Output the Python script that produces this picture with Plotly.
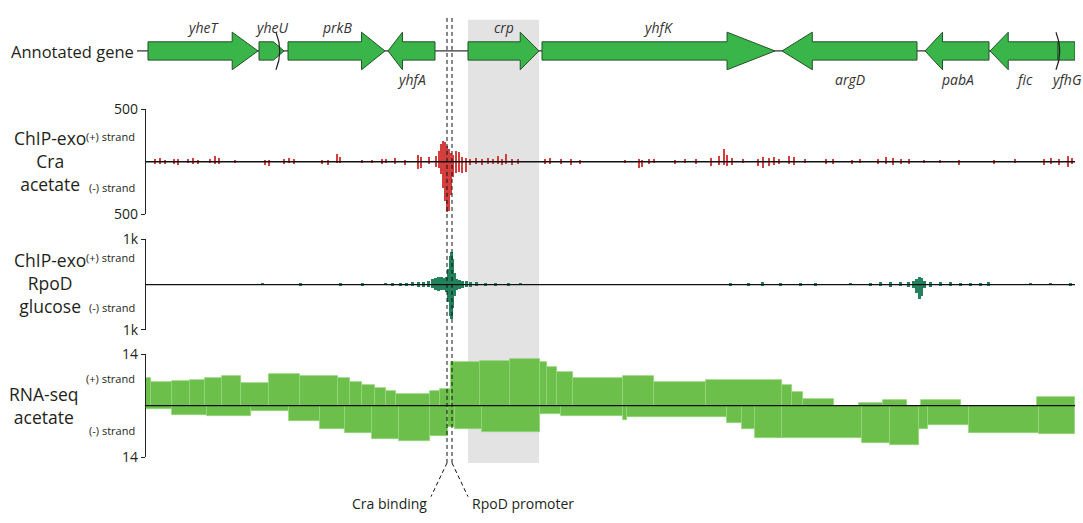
import plotly.graph_objects as go

W, H = 1083, 523

# ---------------- genome window (bp, relative to window start) ----------------
window_start, window_end = 0, 18580

# ---------------- annotated genes ----------------
gene_names = ["yheT", "yheU", "prkB", "yhfA", "crp", "yhfK", "argD", "pabA", "fic", "yfhG"]
gene_starts = [40, 2260, 2840, 4840, 6440, 7920, 12720, 15580, 16880, 18240]
gene_ends = [2240, 2760, 4780, 5780, 7860, 12580, 15420, 16860, 18240, 18580]
gene_strands = ["+", "+", "+", "-", "+", "+", "-", "-", "-", "-"]
gene_breaks = [2640, 18240]          # overlap / break marks on the gene track
highlight_gene = "crp"

# ---------------- regulatory sites ----------------
site_names = ["Cra binding", "RpoD promoter"]
site_positions = [6020, 6120]

# ---------------- ChIP-exo Cra (acetate), reads per strand ----------------
cra_pos = [180, 280, 380, 560, 640, 840, 940, 1040, 1280, 1380, 1460, 1780, 2380, 2460,
           2760, 2860, 2960, 3520, 3640, 3820, 3880, 4320, 4520, 4720, 4800, 4980, 5180,
           5440, 5500, 5660, 5800, 5860, 5900, 5940, 5980, 6020, 6060, 6100, 6140, 6200,
           6260, 6320, 6400, 6480, 6600, 6720, 6840, 6940, 7040, 7120, 7200, 7320, 7440,
           7980, 8080, 8300, 8500, 8680, 9580, 9860, 9920, 10060, 10160, 10580, 10780,
           11000, 11300, 11460, 11560, 11620, 11720, 11940, 12240, 12340, 12460, 12560,
           12660, 12860, 12960, 13180, 13600, 13740, 14120, 14280, 14640, 14800, 14940,
           15100, 15260, 15560, 15880, 16260, 16960, 17380, 17960, 18100, 18260, 18440, 18520]
cra_plus = [25, 30, 15, 28, 20, 25, 30, 15, 20, 48, 35, 10, 15, 10,
            25, 30, 20, 10, 15, 70, 45, 10, 10, 20, 25, 35, 15,
            60, 45, 45, 55, 100, 170, 195, 190, 150, 120, 80, 60, 100,
            90, 40, 30, 25, 30, 20, 35, 25, 55, 25, 70, 20, 25,
            25, 30, 20, 25, 15, 10, 20, 15, 25, 20, 15, 25,
            20, 30, 50, 120, 60, 35, 20, 25, 40, 30, 45,
            25, 55, 40, 20, 20, 25, 15, 25, 20, 45, 35,
            25, 20, 10, 15, 10, 10, 28, 20, 30, 20, 55, 30]
cra_minus = [20, 28, 25, 20, 30, 18, 25, 28, 15, 20, 25, 10, 35, 40,
             20, 15, 25, 28, 30, 10, 15, 8, 10, 25, 15, 20, 35,
             75, 60, 20, 50, 60, 120, 250, 380, 480, 470, 320, 150, 110,
             100, 110, 100, 30, 25, 30, 20, 25, 20, 30, 25, 35, 20,
             20, 25, 25, 30, 25, 10, 65, 55, 20, 15, 20, 15,
             25, 45, 35, 30, 45, 30, 15, 45, 65, 45, 30,
             20, 25, 30, 15, 25, 20, 20, 15, 25, 20, 30,
             20, 25, 10, 10, 30, 28, 10, 30, 25, 35, 50, 25]

# ---------------- ChIP-exo RpoD (glucose), reads per strand ----------------
rpod_pos = [2320, 3080, 3880, 4320, 4780, 4920, 5080, 5200, 5320, 5440, 5540, 5640, 5720,
            5780, 5840, 5900, 5960, 6000, 6040, 6080, 6100, 6120, 6160, 6200, 6260, 6320,
            6400, 6480, 6600, 6780, 6980, 7240, 7480, 11680, 12040, 12320, 12680, 13080,
            13380, 14080, 14480, 14680, 14880, 15080, 15240, 15340, 15400, 15460, 15500,
            15560, 15680, 15880, 16080, 16280, 16480, 16680, 16840, 17680, 18080, 18480]
rpod_plus = [15, 20, 20, 25, 15, 20, 30, 35, 45, 55, 60, 80, 110,
             150, 165, 160, 140, 170, 330, 620, 720, 560, 260, 120, 90, 80,
             70, 55, 40, 30, 25, 20, 15, 25, 30, 45, 25, 30,
             20, 15, 30, 40, 55, 50, 60, 80, 120, 170, 140,
             70, 50, 40, 45, 35, 30, 30, 40, 15, 20, 20]
rpod_minus = [10, 20, 25, 20, 15, 20, 25, 30, 40, 50, 55, 70, 90,
              120, 140, 130, 120, 180, 380, 700, 770, 520, 250, 130, 100, 80,
              65, 50, 35, 25, 20, 20, 15, 20, 25, 45, 25, 25,
              20, 10, 25, 35, 50, 45, 50, 90, 200, 320, 250,
              90, 60, 45, 40, 30, 35, 30, 35, 15, 15, 20]

# ---------------- RNA-seq (acetate), step coverage per strand ----------------
rna_plus_edges = [0, 100, 520, 880, 1180, 1520, 1900, 2460, 3080, 3840, 4080, 4320, 4580,
                  4800, 5000, 5680, 5880, 6100, 6680, 7280, 7880, 8020, 8220, 8540, 9540,
                  10160, 11200, 12720, 12920, 13140, 13760, 14260, 14740, 15220, 15500,
                  16300, 17820, 18580]
rna_plus_vals = [7.6, 6.5, 6.7, 7.0, 7.5, 8.0, 6.0, 8.5, 8.1, 7.4, 6.5, 5.6,
                 4.8, 4.0, 3.1, 3.9, 4.6, 11.8, 12.2, 12.6, 11.7, 10.4, 9.0, 7.4,
                 8.1, 6.5, 6.9, 5.6, 3.8, 1.9, 0.0, 0.8, 1.4, 0.0, 1.6,
                 0.0, 2.3]
rna_minus_edges = [0, 520, 1220, 2100, 2860, 3480, 3980, 4520, 5060, 5680, 6040, 6180,
                   6720, 7880, 8300, 9540, 9620, 11620, 11920, 12180, 12720, 14320, 14880,
                   15460, 15640, 16460, 17860, 18580]
rna_minus_vals = [0.9, 2.5, 2.9, 1.5, 4.3, 6.3, 7.4, 9.0, 9.6, 8.2, 5.7, 6.5,
                  7.2, 2.3, 2.9, 3.9, 3.2, 4.6, 6.4, 8.7, 8.9, 10.2, 10.8,
                  6.3, 5.3, 7.5, 7.8]

# ---------------- styling ----------------
FONT = "Open Sans"
TXT = "#231f20"
GENE_FILL = "#39b54a"
GENE_EDGE = "#24512b"
CRA_COLOR = "#d43f3e"
RPOD_COLOR = "#23825d"
RNA_COLOR = "#6cbf4b"
RNA_EDGE = "#93d47a"
BAND = "#e3e3e3"


def px(x):
    return x / W


def py(y):
    return 1 - y / H


fig = go.Figure()

# ChIP-exo tracks as stranded bars
for pos, plus, minus, color, yax, w in [
    (cra_pos, cra_plus, cra_minus, CRA_COLOR, "y2", 44),
    (rpod_pos, rpod_plus, rpod_minus, RPOD_COLOR, "y3", 60),
]:
    fig.add_trace(go.Bar(x=pos, y=plus, width=w, marker=dict(color=color, line=dict(width=0)),
                         xaxis="x", yaxis=yax, hoverinfo="skip"))
    fig.add_trace(go.Bar(x=pos, y=[-v for v in minus], width=w,
                         marker=dict(color=color, line=dict(width=0)),
                         xaxis="x", yaxis=yax, hoverinfo="skip"))

# RNA-seq coverage as step bars
for edges, vals, sign in [(rna_plus_edges, rna_plus_vals, 1), (rna_minus_edges, rna_minus_vals, -1)]:
    mids = [(edges[i] + edges[i + 1]) / 2 for i in range(len(vals))]
    widths = [edges[i + 1] - edges[i] for i in range(len(vals))]
    fig.add_trace(go.Bar(x=mids, y=[sign * v for v in vals], width=widths,
                         marker=dict(color=RNA_COLOR, line=dict(color=RNA_EDGE, width=0.8)),
                         xaxis="x", yaxis="y4", hoverinfo="skip"))

shapes = []

# highlighted gene region
hi = gene_names.index(highlight_gene)
shapes.append(dict(type="rect", xref="x", yref="paper", x0=gene_starts[hi], x1=gene_ends[hi],
                   y0=py(470), y1=py(10), fillcolor=BAND, line=dict(width=0), layer="below"))

# gene track backbone
shapes.append(dict(type="line", xref="paper", yref="y", x0=px(137), x1=px(1075), y0=0, y1=0,
                   line=dict(color="#333333", width=1.3), layer="above"))

# gene arrows
BODY, HEAD = 9.5, 19.5
for name, s, e, strand in zip(gene_names, gene_starts, gene_ends, gene_strands):
    length = e - s
    truncated = e >= window_end or s <= window_start
    head = 0 if truncated else min(length, 0.18 * length + 120)
    half = HEAD if length > 800 else BODY
    if strand == "+":
        hb = e - head
        pts = [(s, -BODY), (hb, -BODY), (hb, -half), (e, 0), (hb, half), (hb, BODY), (s, BODY)]
    else:
        hb = s + head
        pts = [(e, -BODY), (hb, -BODY), (hb, -half), (s, 0), (hb, half), (hb, BODY), (e, BODY)]
    if head == 0:
        pts = [(s, -BODY), (e, -BODY), (e, BODY), (s, BODY)]
    path = "M " + " L ".join(f"{x},{y}" for x, y in pts) + " Z"
    shapes.append(dict(type="path", xref="x", yref="y", path=path, fillcolor=GENE_FILL,
                       line=dict(color=GENE_EDGE, width=1), layer="above"))

# break marks between overlapping genes
for b in gene_breaks:
    shapes.append(dict(type="path", xref="x", yref="y",
                       path=f"M {b - 40},{-HEAD} Q {b + 110},0 {b - 40},{HEAD}",
                       line=dict(color="#222222", width=1.2), layer="above"))

# zero lines of the data tracks
for yax in ["y2", "y3", "y4"]:
    shapes.append(dict(type="line", xref="x domain", yref=yax, x0=0, x1=1, y0=0, y1=0,
                       line=dict(color="#111111", width=1.4), layer="above"))

# dashed guides for the regulatory sites
for i, site in enumerate(site_positions):
    shapes.append(dict(type="line", xref="x", yref="paper", x0=site, x1=site,
                       y0=py(470), y1=py(8), line=dict(color="#111111", width=1, dash="4px,3px"),
                       layer="above"))
    off = -320 if i == 0 else 320
    shapes.append(dict(type="line", xref="x", yref="paper", x0=site, x1=site + off,
                       y0=py(470), y1=py(505), line=dict(color="#111111", width=1, dash="4px,3px"),
                       layer="above"))

annotations = []

# gene labels
for name, s, e, strand in zip(gene_names, gene_starts, gene_ends, gene_strands):
    annotations.append(dict(x=(s + e) / 2, y=24.5 if strand == "+" else -29.5, xref="x", yref="y",
                            text=f"<i>{name}</i>", showarrow=False,
                            font=dict(family=FONT, size=14, color="#333333"),
                            xanchor="center", yanchor="middle"))

# site labels
for i, (name, site) in enumerate(zip(site_names, site_positions)):
    off = -320 if i == 0 else 320
    annotations.append(dict(x=site + off, y=py(512), xref="x", yref="paper", text=name,
                            showarrow=False, font=dict(family=FONT, size=14, color=TXT),
                            xanchor="right" if i == 0 else "left", yanchor="middle",
                            xshift=-2 if i == 0 else 2))

# row labels
annotations.append(dict(x=px(136), y=py(43), xref="paper", yref="paper", text="Annotated gene",
                        showarrow=False, font=dict(family=FONT, size=16.5, color=TXT),
                        xanchor="right", yanchor="middle"))

track_labels = [
    ("ChIP-exo<br>Cra<br>acetate", (50, 157), 131, 184),
    ("ChIP-exo<br>RpoD<br>glucose", (50, 283), 257, 309),
    ("RNA-seq<br>acetate", (44, 410), 382, 436),
]
for text, (x, y), yp, ym in track_labels:
    annotations.append(dict(x=px(x), y=py(y), xref="paper", yref="paper", text=text,
                            showarrow=False, font=dict(family=FONT, size=17.5, color=TXT),
                            xanchor="center", yanchor="middle", align="center"))
    for stext, sy in [("(+) strand", yp), ("(-) strand", ym)]:
        annotations.append(dict(x=px(137), y=py(sy), xref="paper", yref="paper", text=stext,
                                showarrow=False, font=dict(family=FONT, size=11, color=TXT),
                                xanchor="right", yanchor="middle"))

track_axis = dict(anchor="x", showline=True, linecolor="#222222", linewidth=1.2,
                  ticks="outside", ticklen=4, tickwidth=1.2, tickcolor="#222222",
                  showgrid=False, zeroline=False, fixedrange=True,
                  tickfont=dict(family=FONT, size=14, color=TXT))

fig.update_layout(
    width=W, height=H, margin=dict(l=0, r=0, t=0, b=0),
    paper_bgcolor="white", plot_bgcolor="rgba(0,0,0,0)",
    showlegend=False, barmode="overlay", bargap=0,
    font=dict(family=FONT, color=TXT),
    xaxis=dict(domain=[px(146), px(1075)], range=[window_start, window_end], visible=False,
               fixedrange=True),
    yaxis=dict(domain=[py(85), 1], range=[-42.5, 42.5], visible=False, fixedrange=True),
    yaxis2=dict(domain=[py(212), py(103)], range=[-500, 500], tickvals=[-500, 500],
                ticktext=["500", "500"], **track_axis),
    yaxis3=dict(domain=[py(332), py(238)], range=[-1000, 1000], tickvals=[-1000, 1000],
                ticktext=["1k", "1k"], **track_axis),
    yaxis4=dict(domain=[py(464), py(357)], range=[-14, 14], tickvals=[-14, 14],
                ticktext=["14", "14"], **track_axis),
    shapes=shapes,
    annotations=annotations,
)

fig.write_html("out.html")
